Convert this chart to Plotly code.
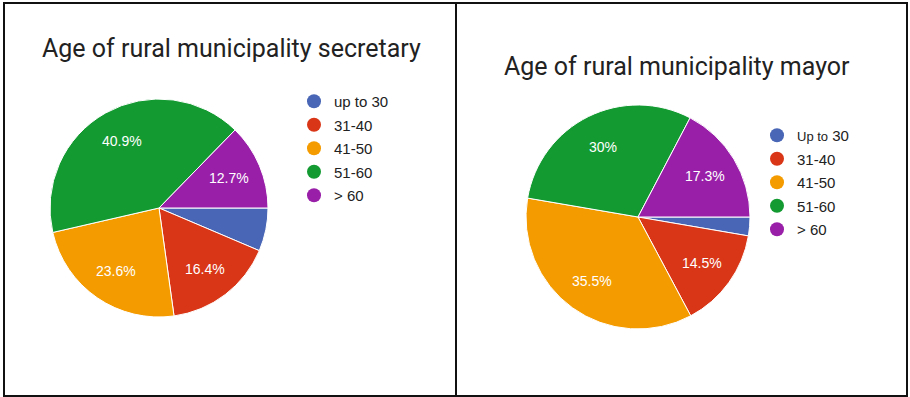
import math
import plotly.graph_objects as go

W, H = 910, 397

age_groups = ["up to 30", "31-40", "41-50", "51-60", "> 60"]
mayor_legend_names = ["<span style='font-size:13px'>Up to</span> 30", "31-40", "41-50", "51-60", "> 60"]
secretary_pct = [6.4, 16.4, 23.6, 40.9, 12.7]
mayor_pct = [2.7, 14.5, 35.5, 30, 17.3]
# the thin first slice carries no label
hidden_label = [True, False, False, False, False]

colors = ["#4866B5", "#D93617", "#F49B00", "#139B32", "#991FA9"]

title_secretary = "Age of rural municipality secretary"
title_mayor = "Age of rural municipality mayor"

# pie centres and radii in pixels
SEC_PIE = (159, 208, 109)
MAY_PIE = (638, 217, 112)
LABEL_RADIUS = 0.70  # fraction of the radius where slice labels sit
START_DEG = 0        # first slice starts at 3 o'clock, running clockwise


def px_domain(cx, cy, r):
    """Paper-space domain for a pie of radius r centred at pixel (cx, cy)."""
    return dict(
        x=[(cx - r) / W, (cx + r) / W],
        y=[(H - cy - r) / H, (H - cy + r) / H],
    )


def slice_labels(values, pie):
    """White percentage labels placed along each slice's mid-angle."""
    cx, cy, r = pie
    total = sum(values)
    acc = 0.0
    out = []
    for v, hide in zip(values, hidden_label):
        mid = (acc + v / 2) / total
        acc += v
        if hide:
            continue
        ang = math.radians(START_DEG + 360 * mid)
        px = cx + LABEL_RADIUS * r * math.cos(ang)
        py = cy + LABEL_RADIUS * r * math.sin(ang)
        out.append(dict(
            text=f"{v:g}%", x=px / W, y=1 - py / H, xref="paper", yref="paper",
            xanchor="center", yanchor="middle", showarrow=False,
            font=dict(family="Arial", size=14, color="white"),
        ))
    return out


fig = go.Figure()

pie_style = dict(
    sort=False,
    direction="clockwise",
    rotation=90 + START_DEG,
    textinfo="none",
    marker=dict(colors=colors, line=dict(color="white", width=1)),
    showlegend=False,
    hoverinfo="label+percent",
)

fig.add_trace(go.Pie(labels=age_groups, values=secretary_pct,
                     domain=px_domain(*SEC_PIE), **pie_style))
fig.add_trace(go.Pie(labels=age_groups, values=mayor_pct,
                     domain=px_domain(*MAY_PIE), **pie_style))

# circular legend swatches
for legend_id, names in (("legend", age_groups), ("legend2", mayor_legend_names)):
    for i, (name, c) in enumerate(zip(names, colors)):
        fig.add_trace(go.Scatter(
            x=[None], y=[None], mode="markers", name=name,
            marker=dict(symbol="circle", size=14, color=c),
            legend=legend_id, legendgroup=f"{legend_id}-{i}",
            showlegend=True, hoverinfo="skip",
        ))

legend_common = dict(
    font=dict(family="Arial", size=15, color="#222222"),
    bgcolor="rgba(0,0,0,0)",
    tracegroupgap=1,
    xanchor="left", yanchor="top",
    itemclick=False, itemdoubleclick=False,
)

title_font = dict(family="Roboto", size=25, color="#222222")

fig.update_layout(
    width=W, height=H,
    margin=dict(l=0, r=0, t=0, b=0),
    paper_bgcolor="white",
    plot_bgcolor="white",
    xaxis=dict(visible=False),
    yaxis=dict(visible=False),
    legend=dict(x=(314 - 20) / W, y=1 - (97 - 12) / H, **legend_common),
    legend2=dict(x=(777 - 20) / W, y=1 - (131 - 12) / H, **legend_common),
    annotations=[
        dict(text=title_secretary, x=231.5 / W, y=1 - 48 / H, xref="paper", yref="paper",
             xanchor="center", yanchor="middle", showarrow=False, font=title_font),
        dict(text=title_mayor, x=676.5 / W, y=1 - 67 / H, xref="paper", yref="paper",
             xanchor="center", yanchor="middle", showarrow=False, font=title_font),
    ] + slice_labels(secretary_pct, SEC_PIE) + slice_labels(mayor_pct, MAY_PIE),
    shapes=[
        dict(type="rect", xref="paper", yref="paper", x0=4 / W, x1=456 / W,
             y0=1 - 396 / H, y1=1 - 3 / H, line=dict(color="#111111", width=2)),
        dict(type="rect", xref="paper", yref="paper", x0=456 / W, x1=907 / W,
             y0=1 - 396 / H, y1=1 - 3 / H, line=dict(color="#111111", width=2)),
    ],
)

fig.write_html("out.html")
